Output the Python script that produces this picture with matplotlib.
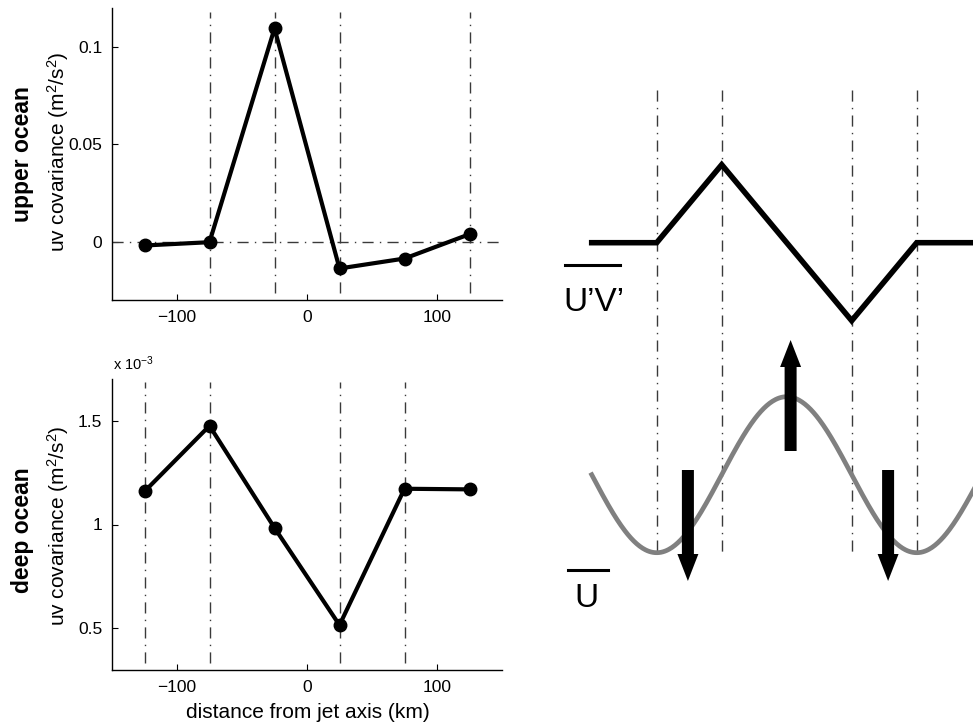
import numpy as np
import matplotlib
matplotlib.use("Agg")
import matplotlib.pyplot as plt
from matplotlib.lines import Line2D

plt.rcParams['font.family'] = ['Liberation Sans', 'DejaVu Sans']
plt.rcParams['mathtext.fontset'] = 'custom'
plt.rcParams['mathtext.rm'] = 'Liberation Sans'
plt.rcParams['mathtext.it'] = 'Liberation Sans:italic'
plt.rcParams['mathtext.bf'] = 'Liberation Sans:bold'

# ---- measured eddy momentum flux across the jet ----
dist_km = [-125, -75, -25, 25, 75, 125]
upper_cov = [-0.0020, -0.0003, 0.1095, -0.0138, -0.0087, 0.0038]      # m^2/s^2
deep_cov = [1.159e-3, 1.475e-3, 0.984e-3, 0.516e-3, 1.172e-3, 1.169e-3]  # m^2/s^2
upper_guides = [-75, -25, 25, 125]
deep_guides = [-125, -75, 25, 75]

x_ticks = [-100, 0, 100]
x_ticklabels = ['\u2212100', '0', '100']
upper_yticks = [0, 0.05, 0.1]
upper_yticklabels = ['0', '0.05', '0.1']
deep_yticks = [0.5e-3, 1.0e-3, 1.5e-3]
deep_yticklabels = ['0.5', '1', '1.5']

# ---- idealised schematic: jet profile and eddy flux ----
sketch_x = [-150, -100, -50, 50, 100, 150]
sketch_uv = [0, 0, 1, -1, 0, 0]          # triangular U'V' profile
sketch_guides = [-100, -50, 50, 100]
jet_halfwidth_km = 100                   # mean jet is cos(pi x / 100)
arrow_x = [-76, 3, 78]                   # eddy forcing arrows
arrow_dir = [-1, 1, -1]                  # +1 accelerates, -1 decelerates

W, H = 973, 726
fig = plt.figure(figsize=(W / 100, H / 100), dpi=100)


def px_box(left, top, right, bottom):
    return [left / W, 1 - bottom / H, (right - left) / W, (bottom - top) / H]


guide_style = dict(color='#3a3a3a', lw=1.0, linestyle=(0, (8, 4.5, 1, 4.5)))


def style_axes(ax):
    for s in ('top', 'right'):
        ax.spines[s].set_visible(False)
    for s in ('left', 'bottom'):
        ax.spines[s].set_linewidth(1.0)
    ax.tick_params(direction='in', length=4, width=0.8, labelsize=12.5,
                   top=False, right=False, pad=7)
    ax.set_xlim(-150, 150)
    ax.set_xticks(x_ticks)
    ax.set_xticklabels(x_ticklabels)


# upper ocean panel
ax1 = fig.add_axes(px_box(112, 8, 502, 300))
style_axes(ax1)
ax1.set_ylim(-0.03, 0.12)
ax1.set_yticks(upper_yticks)
ax1.set_yticklabels(upper_yticklabels)
for g in upper_guides:
    ax1.axvline(g, ymin=0.024, ymax=0.986, **guide_style)
ax1.axhline(0, **guide_style)
ax1.plot(dist_km, upper_cov, color='k', lw=3.0, marker='o', ms=9,
         zorder=3)

# deep ocean panel
ax2 = fig.add_axes(px_box(112, 379, 502, 670))
style_axes(ax2)
ax2.set_ylim(0.3e-3, 1.7e-3)
ax2.set_yticks(deep_yticks)
ax2.set_yticklabels(deep_yticklabels)
for g in deep_guides:
    ax2.axvline(g, ymin=0.024, ymax=0.99, **guide_style)
ax2.plot(dist_km, deep_cov, color='k', lw=3.0, marker='o', ms=9,
         zorder=3)

fig.text(113 / W, 1 - 364 / H, r'x 10$^{-3}$', fontsize=10.5,
         ha='left', va='center')

# axis labels
ylab = r'uv covariance (m$^2$/s$^2$)'
fig.text(58 / W, 1 - 152 / H, ylab, rotation=90, fontsize=15,
         ha='center', va='center')
fig.text(58 / W, 1 - 526 / H, ylab, rotation=90, fontsize=15,
         ha='center', va='center')
fig.text(22 / W, 1 - 154 / H, 'upper ocean', rotation=90, fontsize=16.5,
         fontweight='bold', ha='center', va='center')
fig.text(22 / W, 1 - 530 / H, 'deep ocean', rotation=90, fontsize=16.5,
         fontweight='bold', ha='center', va='center')
fig.text(308 / W, 1 - 712 / H, 'distance from jet axis (km)', fontsize=15,
         ha='center', va='center')

# schematic panel: x in km (1.3 px per km, jet axis at x=786.7 px), y in px
ax3 = fig.add_axes(px_box(540, 0, 973, 726))
ax3.set_xlim((540 - 786.7) / 1.3, (973 - 786.7) / 1.3)
ax3.set_ylim(726, 0)
ax3.axis('off')

uv_base, uv_amp = 242.7, 78.0
jet_mid, jet_amp = 474.7, 78.0

for g in sketch_guides:
    ax3.plot([g, g], [90, 553], **guide_style)

ax3.plot(sketch_x, [uv_base - uv_amp * v for v in sketch_uv], color='k',
         lw=4.0, solid_joinstyle='miter', zorder=3)

xs = np.linspace(-150, 150, 400)
ax3.plot(xs, jet_mid - jet_amp * np.cos(np.pi * xs / jet_halfwidth_km),
         color='#808080', lw=3.4, zorder=2)

shaft_w, head_w, head_len, arrow_len = 12 / 1.3, 21 / 1.3, 27, 111
for xa, d in zip(arrow_x, arrow_dir):
    tail = 451 if d > 0 else 470
    ax3.arrow(xa, tail, 0, -d * arrow_len, width=shaft_w, head_width=head_w,
              head_length=head_len, length_includes_head=True,
              fc='k', ec='none', zorder=4)

# overlined labels
fig.add_artist(Line2D([565 / W, 620 / W], [1 - 265 / H, 1 - 265 / H],
                      color='k', lw=2.2))
fig.text(593.5 / W, 1 - 311 / H, 'U\u2019V\u2019', fontsize=24,
         ha='center', va='baseline')
fig.add_artist(Line2D([568 / W, 608 / W], [1 - 570 / H, 1 - 570 / H],
                      color='k', lw=2.2))
fig.text(586 / W, 1 - 607 / H, 'U', fontsize=24,
         ha='center', va='baseline')

fig.savefig('out.png', dpi=100)
